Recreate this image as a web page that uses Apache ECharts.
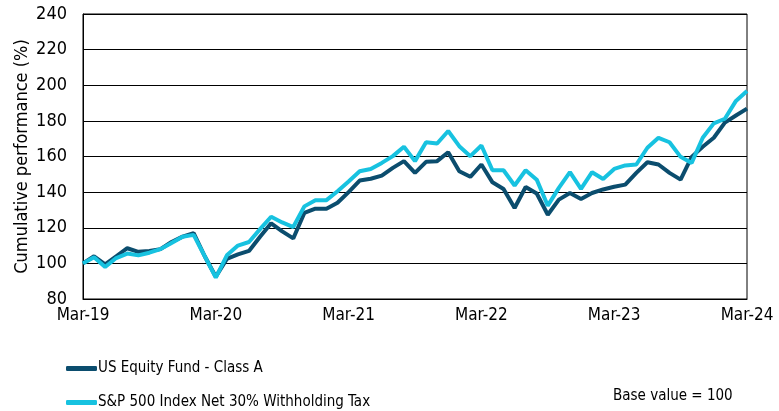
<!DOCTYPE html>
<html>
<head>
<meta charset="utf-8">
<script src="https://cdn.jsdelivr.net/npm/echarts@6/dist/echarts.min.js"></script>
<style>
  html, body { margin: 0; padding: 0; background: #fff; }
  #chart-main { width: 779px; height: 411px; }
</style>
</head>
<body>
<div id="chart-main"></div>
<script>
// monthly points, Mar-19 .. Mar-24
var months = [
  'Mar-19', 'Apr-19', 'May-19', 'Jun-19', 'Jul-19', 'Aug-19', 'Sep-19', 'Oct-19', 'Nov-19', 'Dec-19', 'Jan-20', 'Feb-20',
  'Mar-20', 'Apr-20', 'May-20', 'Jun-20', 'Jul-20', 'Aug-20', 'Sep-20', 'Oct-20', 'Nov-20', 'Dec-20', 'Jan-21', 'Feb-21',
  'Mar-21', 'Apr-21', 'May-21', 'Jun-21', 'Jul-21', 'Aug-21', 'Sep-21', 'Oct-21', 'Nov-21', 'Dec-21', 'Jan-22', 'Feb-22',
  'Mar-22', 'Apr-22', 'May-22', 'Jun-22', 'Jul-22', 'Aug-22', 'Sep-22', 'Oct-22', 'Nov-22', 'Dec-22', 'Jan-23', 'Feb-23',
  'Mar-23', 'Apr-23', 'May-23', 'Jun-23', 'Jul-23', 'Aug-23', 'Sep-23', 'Oct-23', 'Nov-23', 'Dec-23', 'Jan-24', 'Feb-24',
  'Mar-24'
];

var fundValues = [
  100, 104, 99.5, 104, 108.5, 106.5, 107, 108, 112, 115, 117, 104,
  92.5, 102.5, 105, 107, 115, 122.5, 118, 114, 128.3, 130.7, 130.7, 134,
  140, 146.5, 147.5, 149.3, 153.6, 157.4, 150.8, 157, 157.4, 162.4, 151.7, 148.6,
  155.5, 145.5, 141.8, 131.1, 142.9, 139.2, 127.3, 135.8, 139.5, 136.2, 139.5, 141.5,
  143, 144.2, 150.8, 156.8, 155.5, 150.8, 147, 159.8, 165.5, 170.5, 179, 183,
  186.9
];

var indexValues = [
  100, 103.5, 98, 103, 105.5, 104.5, 106, 108, 111.5, 115, 116, 104,
  92, 104.5, 110, 112, 119.2, 126.2, 123, 120.4, 132, 135.5, 135.5, 140.5,
  146, 151.7, 153, 156.4, 160.2, 165.5, 157.4, 168, 167.3, 174.3, 165.8, 160.2,
  166.2, 152.3, 152.3, 143.7, 152.3, 147, 132.4, 142.4, 151.2, 141.8, 151.2, 147.4,
  153, 155, 155.5, 164.9, 170.5, 168, 159.8, 156.4, 170.5, 178.6, 181.2, 191.2,
  196.8
];

var seriesNames = ['US Equity Fund - Class A', 'S&P 500 Index Net 30% Withholding Tax'];
var seriesColors = ['#0b4d6e', '#17c2e0'];

var font = "'Liberation Sans Narrow', 'Arial Narrow', 'DejaVu Sans Condensed', 'Liberation Sans', sans-serif";

var myChart = echarts.init(document.getElementById('chart-main'));

function legendFor(name, top) {
  return {
    left: 61, top: top,
    itemWidth: 31, itemHeight: 5, itemGap: 0,
    icon: 'roundRect',
    textStyle: { fontFamily: font, fontSize: 15, color: '#000', padding: [0, 0, 0, -4] },
    data: [name]
  };
}

var option = {
  animation: false,
  textStyle: { fontFamily: font },
  grid: {
    left: 83, right: 32, top: 14, bottom: 112,
    outerBoundsMode: 'none',
    show: true, borderColor: '#000', borderWidth: 1
  },
  legend: [
    legendFor(seriesNames[0], 356),
    legendFor(seriesNames[1], 390)
  ],
  graphic: [{
    type: 'text',
    left: 613, top: 389,
    style: { text: 'Base value = 100', fontFamily: font, fontSize: 15, fill: '#000' }
  }],
  xAxis: {
    type: 'category',
    data: months,
    boundaryGap: false,
    axisLine: { lineStyle: { color: '#000', width: 1 } },
    axisTick: { show: false },
    axisLabel: {
      interval: 11, color: '#000', fontSize: 17, margin: 8,
      showMaxLabel: true
    }
  },
  yAxis: {
    type: 'value',
    min: 80, max: 240, interval: 20,
    name: 'Cumulative performance (%)',
    nameLocation: 'middle',
    nameGap: 52,
    nameMoveOverlap: false,
    nameTextStyle: { fontSize: 18, color: '#000', fontFamily: font },
    axisLine: { show: true, lineStyle: { color: '#000' } },
    axisTick: { show: false },
    axisLabel: { color: '#000', fontSize: 18, margin: 16 },
    splitLine: { lineStyle: { color: '#000', width: 1 } }
  },
  series: [
    {
      name: seriesNames[0], type: 'line', data: fundValues,
      symbol: 'none', color: seriesColors[0],
      lineStyle: { width: 4, color: seriesColors[0] }
    },
    {
      name: seriesNames[1], type: 'line', data: indexValues,
      symbol: 'none', color: seriesColors[1],
      lineStyle: { width: 4, color: seriesColors[1] }
    }
  ]
};

option && myChart.setOption(option);
</script>
</body>
</html>
